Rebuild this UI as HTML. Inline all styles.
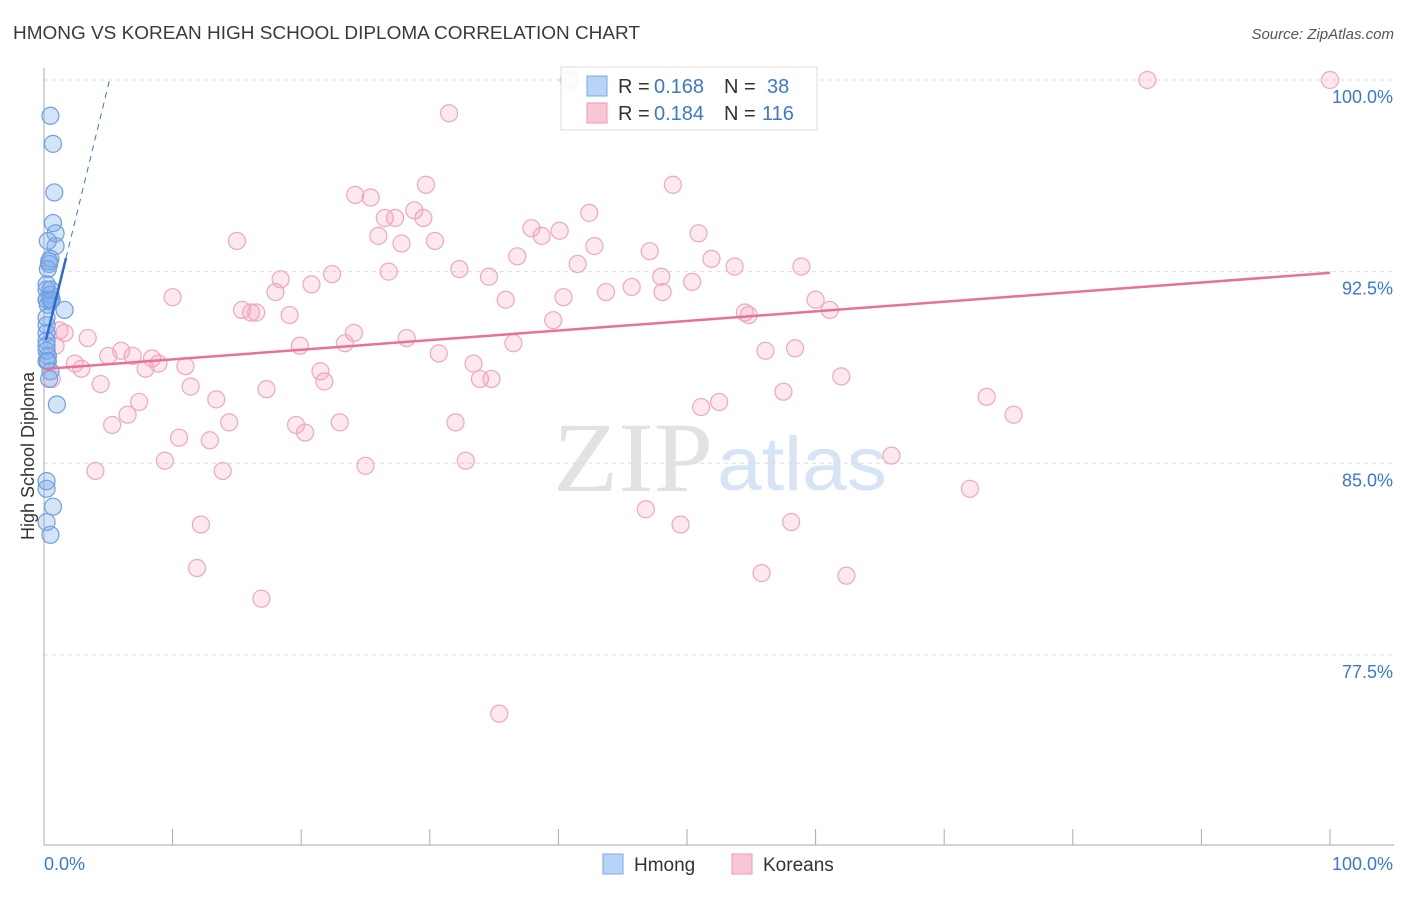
<!DOCTYPE html>
<html><head><meta charset="utf-8"><style>
body{margin:0;background:#fff;font-family:"Liberation Sans",sans-serif;}
</style></head><body>
<svg id="chart" width="1406" height="892" xmlns="http://www.w3.org/2000/svg" style="font-family:'Liberation Sans',sans-serif">
<text x="13" y="39" font-size="18" fill="#3a3a3a" textLength="627" lengthAdjust="spacingAndGlyphs">HMONG VS KOREAN HIGH SCHOOL DIPLOMA CORRELATION CHART</text>
<text x="1394" y="39" font-size="15" fill="#555" text-anchor="end" font-style="italic">Source: ZipAtlas.com</text>
<g>
<text x="553" y="491" font-size="100" fill="#e2e2e2" style="font-family:'Liberation Serif',serif" textLength="160" lengthAdjust="spacingAndGlyphs">ZIP</text>
<text x="717" y="490" font-size="76" fill="#d6e4f5" textLength="170" lengthAdjust="spacingAndGlyphs">atlas</text>
</g>
<g id="grid"></g>
<g id="axes"></g>
<g id="pts"></g>
<g id="trend"></g>
<g>
<rect x="561" y="67" width="256" height="63" fill="rgba(255,255,255,0.85)" stroke="#ddd"/>
<rect x="587" y="76" width="20" height="20" fill="#b7d3f5" stroke="#7aaae6"/>
<text x="618" y="93" font-size="20" fill="#333">R =</text>
<text x="654" y="93" font-size="20" fill="#3a78d4">0.168</text>
<text x="724" y="93" font-size="20" fill="#333">N =</text>
<text x="767" y="93" font-size="20" fill="#3a78d4">38</text>
<rect x="587" y="103" width="20" height="20" fill="#f9c6d6" stroke="#ee9ab6"/>
<text x="618" y="120" font-size="20" fill="#333">R =</text>
<text x="654" y="120" font-size="20" fill="#3a78d4">0.184</text>
<text x="724" y="120" font-size="20" fill="#333">N =</text>
<text x="762" y="120" font-size="20" fill="#3a78d4">116</text>
</g>
<g>
<rect x="603" y="854" width="20" height="20" fill="#b7d3f5" stroke="#7aaae6"/>
<text x="634" y="871" font-size="19" fill="#333">Hmong</text>
<rect x="732" y="854" width="20" height="20" fill="#f9c6d6" stroke="#ee9ab6"/>
<text x="763" y="871" font-size="19" fill="#333">Koreans</text>
</g>
<text transform="translate(34,456) rotate(-90)" font-size="18" fill="#333" text-anchor="middle">High School Diploma</text>
</svg>
<script>
const yTicks=[100,92.5,85,77.5];
const yTickLabels=["100.0%","92.5%","85.0%","77.5%"];
const xTickLabels=["0.0%","100.0%"];
const koreansX=[40.8,85.8,100,31.5,29.7,48.9,24.2,25.4,28.8,42.4,26.5,27.3,29.5,37.9,26.0,38.7,40.1,50.9,15.0,27.8,30.4,42.8,47.1,36.8,51.9,41.5,53.7,58.9,32.3,26.8,22.4,34.6,48.0,50.4,18.4,20.8,43.7,45.7,48.1,18.0,10.0,35.9,40.4,60.0,15.4,16.1,16.5,19.1,54.5,54.8,61.1,39.6,1.2,1.6,3.4,24.1,28.2,19.9,36.5,23.4,0.9,6.0,5.0,56.1,58.4,30.7,6.9,8.4,8.9,2.4,2.9,7.9,11.0,33.4,21.5,33.9,34.8,21.8,4.4,11.4,17.3,62.0,0.6,57.5,7.4,13.4,52.5,51.1,6.5,73.3,75.4,5.3,14.4,19.6,23.0,32.0,20.3,10.5,12.9,9.4,25.0,32.8,4.0,13.9,65.9,72.0,46.8,12.2,49.5,58.1,11.9,55.8,62.4,16.9,35.4];
const koreansY=[100,100,100,98.7,95.9,95.9,95.5,95.4,94.9,94.8,94.6,94.6,94.6,94.2,93.9,93.9,94.1,94.0,93.7,93.6,93.7,93.5,93.3,93.1,93.0,92.8,92.7,92.7,92.6,92.5,92.4,92.3,92.3,92.1,92.2,92.0,91.7,91.9,91.7,91.7,91.5,91.4,91.5,91.4,91.0,90.9,90.9,90.8,90.9,90.8,91.0,90.6,90.2,90.1,89.9,90.1,89.9,89.6,89.7,89.7,89.6,89.4,89.2,89.4,89.5,89.3,89.2,89.1,88.9,88.9,88.7,88.7,88.8,88.9,88.6,88.3,88.3,88.2,88.1,88.0,87.9,88.4,88.3,87.8,87.4,87.5,87.4,87.2,86.9,87.6,86.9,86.5,86.6,86.5,86.6,86.6,86.2,86.0,85.9,85.1,84.9,85.1,84.7,84.7,85.3,84.0,83.2,82.6,82.6,82.7,80.9,80.7,80.6,79.7,75.2];
const hmongX=[0.5,0.7,0.8,0.7,0.9,0.9,0.3,0.5,0.4,0.3,0.2,0.5,0.2,0.6,1.6,0.2,0.2,0.2,0.3,0.2,0.5,0.4,1.0,0.2,0.2,0.7,0.2,0.5,0.2,0.3,0.5,0.2,0.2,0.4,0.5,0.2,0.2,0.3];
const hmongY=[98.6,97.5,95.6,94.4,94.0,93.5,93.7,93.0,92.8,92.6,91.8,91.6,91.4,91.4,91.0,90.4,90.1,89.8,89.2,89.0,88.6,88.3,87.3,84.3,84.0,83.3,82.7,82.2,91.4,91.2,91.8,89.4,90.7,92.9,91.4,92.0,89.6,89.0];
const koreanTrend=[88.69,92.45];
const hmongTrend=[89.82,93.03];
const hmongTrendX=[0.15,1.71];

const NS="http://www.w3.org/2000/svg";
const X=v=>44+v*12.86;
const Y=v=>80+(100-v)*25.55;
function mk(tag,attrs,parent){const e=document.createElementNS(NS,tag);for(const k in attrs)e.setAttribute(k,attrs[k]);document.getElementById(parent).appendChild(e);return e;}
yTicks.forEach((t,i)=>{
 const l=mk('line',{x1:44,x2:1394,y1:Y(t),y2:Y(t),stroke:'#ddd','stroke-dasharray':'4,4'},'grid');
 
 
 const tx=mk('text',{x:1393,y:Y(t)+23,'font-size':18,fill:'#3a78d4','text-anchor':'end'},'grid');
 tx.textContent=yTickLabels[i];
 
 
});
let a=mk('line',{x1:44,x2:44,y1:68,y2:845,stroke:'#aaa'},'axes');


a=mk('line',{x1:44,x2:1394,y1:845,y2:845,stroke:'#aaa'},'axes');


for(let k=0;k<=10;k++){const t=mk('line',{x1:X(k*10),x2:X(k*10),y1:829,y2:845,stroke:'#aaa'},'axes');
 
 }
let t0=mk('text',{x:44,y:870,'font-size':18,fill:'#3a78d4'},'axes');t0.textContent=xTickLabels[0];


t0=mk('text',{x:1393,y:870,'font-size':18,fill:'#3a78d4','text-anchor':'end'},'axes');t0.textContent=xTickLabels[1];


koreansX.forEach((x,i)=>{const c=mk('circle',{cx:X(x),cy:Y(koreansY[i]),r:8.5,fill:'rgba(244,150,182,0.22)',stroke:'#f0a6c0','stroke-width':1.2},'pts');
 
 });
hmongX.forEach((x,i)=>{const c=mk('circle',{cx:X(x),cy:Y(hmongY[i]),r:8.5,fill:'rgba(120,170,235,0.33)',stroke:'#6fa0e0','stroke-width':1.2},'pts');
 
 });
let tl=mk('line',{x1:X(0),y1:Y(koreanTrend[0]),x2:X(100),y2:Y(koreanTrend[1]),stroke:'#e8709a','stroke-width':2.5},'trend');


const slope=(hmongTrend[1]-hmongTrend[0])/(hmongTrendX[1]-hmongTrendX[0]);
const xEnd=hmongTrendX[0]+(100-hmongTrend[0])/slope;
tl=mk('line',{x1:X(hmongTrendX[1]),y1:Y(hmongTrend[1]),x2:X(xEnd),y2:Y(100),stroke:'#3a78d4','stroke-width':1,'stroke-dasharray':'6,5'},'trend');


tl=mk('line',{x1:X(hmongTrendX[0]),y1:Y(hmongTrend[0]),x2:X(hmongTrendX[1]),y2:Y(hmongTrend[1]),stroke:'#2a6ad4','stroke-width':2.5},'trend');


</script>
</body></html>
